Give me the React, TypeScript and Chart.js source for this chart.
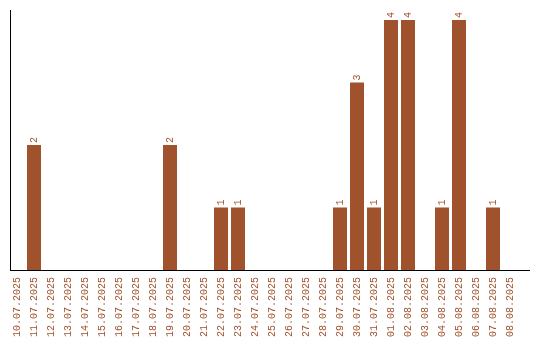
import React, { useEffect, useRef } from "react";
import { Chart, registerables } from "chart.js";

Chart.register(...registerables);

const categories = [
  "10.07.2025", "11.07.2025", "12.07.2025", "13.07.2025", "14.07.2025",
  "15.07.2025", "16.07.2025", "17.07.2025", "18.07.2025", "19.07.2025",
  "20.07.2025", "21.07.2025", "22.07.2025", "23.07.2025", "24.07.2025",
  "25.07.2025", "26.07.2025", "27.07.2025", "28.07.2025", "29.07.2025",
  "30.07.2025", "31.07.2025", "01.08.2025", "02.08.2025", "03.08.2025",
  "04.08.2025", "05.08.2025", "06.08.2025", "07.08.2025", "08.08.2025",
];

const counts = [
  0, 2, 0, 0, 0,
  0, 0, 0, 0, 2,
  0, 0, 1, 1, 0,
  0, 0, 0, 0, 1,
  3, 1, 4, 4, 0,
  1, 4, 0, 1, 0,
];

const COLOR = "#A0522D";
const FONT = "'Liberation Mono', monospace";

const axesPlugin = {
  id: "customAxes",
  afterDraw(chart: any) {
    const ctx = chart.ctx;
    const area = chart.chartArea;
    ctx.save();
    ctx.fillStyle = "#000";
    ctx.fillRect(10, area.top, 1, area.bottom - area.top + 1);
    ctx.fillRect(10, area.bottom, 520, 1);
    ctx.restore();
  },
};

const labelPlugin = {
  id: "barLabels",
  afterDatasetsDraw(chart: any) {
    const ctx = chart.ctx;
    const meta = chart.getDatasetMeta(0);
    const data = chart.data.datasets[0].data as number[];
    ctx.save();
    ctx.fillStyle = COLOR;
    ctx.font = `10px ${FONT}`;
    ctx.textAlign = "left";
    ctx.textBaseline = "middle";
    meta.data.forEach((bar: any, i: number) => {
      const v = data[i];
      if (!v) return;
      ctx.save();
      ctx.translate(bar.x, bar.y - 2);
      ctx.rotate(-Math.PI / 2);
      ctx.fillText(String(v), 0, 0);
      ctx.restore();
    });
    ctx.restore();
  },
};

export default function App() {
  const ref = useRef<HTMLCanvasElement | null>(null);
  useEffect(() => {
    if (!ref.current) return;
    const chart = new Chart(ref.current, {
      type: "bar",
      data: {
        labels: categories,
        datasets: [
          {
            data: counts,
            backgroundColor: COLOR,
            borderWidth: 0,
            categoryPercentage: 1,
            barPercentage: 14 / 17,
          },
        ],
      },
      options: {
        animation: false,
        responsive: false,
        maintainAspectRatio: false,
        layout: { padding: { left: 8.5, right: 21.5, top: 10, bottom: 0 } },
        plugins: {
          legend: { display: false },
          tooltip: { enabled: false },
        },
        scales: {
          x: {
            grid: { display: false, drawTicks: false, tickLength: 0 },
            border: { display: false },
            afterFit: (scale: any) => {
              scale.height = 70;
            },
            ticks: {
              autoSkip: false,
              minRotation: 90,
              maxRotation: 90,
              padding: 7,
              color: COLOR,
              font: { family: FONT, size: 10 },
            },
          },
          y: {
            display: false,
            min: 0,
            max: 4.16,
          },
        },
      },
      plugins: [axesPlugin, labelPlugin],
    });
    return () => chart.destroy();
  }, []);
  return (
    <div style={{ position: "fixed", left: 0, top: 0, width: 540, height: 340, background: "#fff" }}>
      <canvas ref={ref} width={540} height={340} style={{ width: 540, height: 340 }} />
    </div>
  );
}
